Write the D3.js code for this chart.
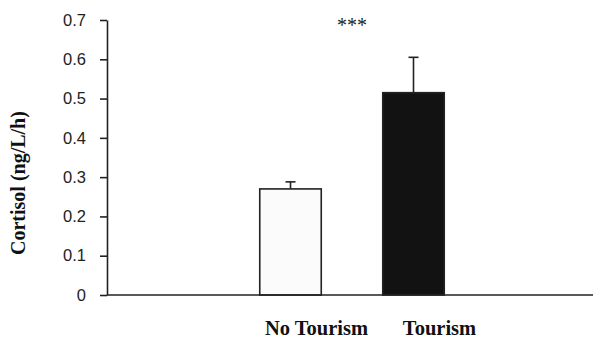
<!DOCTYPE html>
<html>
<head>
<meta charset="utf-8">
<script src="https://cdn.jsdelivr.net/npm/d3@7"></script>
<style>
  html, body { margin: 0; padding: 0; background: #fff; }
  svg { display: block; }
</style>
</head>
<body>
<svg id="chart" width="594" height="341"></svg>
<script>
// Mean cortisol per group, with upper error (SE)
const categories = ["No Tourism", "Tourism"];
const means = [0.27, 0.515];
const errors = [0.018, 0.09];
const yTicks = [0, 0.1, 0.2, 0.3, 0.4, 0.5, 0.6, 0.7];
const fills = ["#fbfbfb", "#121212"];
const yTitle = "Cortisol (ng/L/h)";
const significance = "***";

const svg = d3.select("#chart");
const W = 594, H = 341;
const axisX = 107, axisY = 295, topY = 20;

const y = d3.scaleLinear().domain([0, 0.7]).range([axisY, topY]);
const x = d3.scaleBand()
  .domain(categories)
  .range([229, 475])
  .paddingInner(0.5)
  .paddingOuter(0.25);

const ink = "#222";

// Bars
svg.append("g").selectAll("rect")
  .data(categories)
  .join("rect")
  .attr("x", d => x(d))
  .attr("y", (d, i) => y(means[i]))
  .attr("width", x.bandwidth())
  .attr("height", (d, i) => y(0) - y(means[i]))
  .attr("fill", (d, i) => fills[i])
  .attr("stroke", ink)
  .attr("stroke-width", 1.6);

// Upper error bars with caps
const eb = svg.append("g").attr("stroke", ink).attr("stroke-width", 1.6);
categories.forEach((c, i) => {
  const cx = x(c) + x.bandwidth() / 2;
  eb.append("line")
    .attr("x1", cx).attr("x2", cx)
    .attr("y1", y(means[i])).attr("y2", y(means[i] + errors[i]));
  eb.append("line")
    .attr("x1", cx - 5).attr("x2", cx + 5)
    .attr("y1", y(means[i] + errors[i])).attr("y2", y(means[i] + errors[i]));
});

// Y axis
const yAxis = svg.append("g")
  .attr("transform", `translate(${axisX},0)`)
  .call(d3.axisLeft(y).tickValues(yTicks).tickSize(7).tickSizeOuter(0)
    .tickFormat(d => d === 0 ? "0" : d3.format(".1f")(d)));
yAxis.selectAll("path, line").attr("stroke", ink).attr("stroke-width", 1.6);
yAxis.selectAll("text")
  .attr("x", -21)
  .attr("fill", "#222")
  .style("font-family", "'Liberation Sans', Arial, sans-serif")
  .style("font-size", "16.5px");

// X baseline
svg.append("line")
  .attr("x1", axisX).attr("x2", W - 1)
  .attr("y1", y(0)).attr("y2", y(0))
  .attr("stroke", ink).attr("stroke-width", 1.6);

// Category labels
svg.append("g").selectAll("text")
  .data(categories)
  .join("text")
  .attr("x", d => x(d) + x.bandwidth() / 2 + 26)
  .attr("y", 335)
  .attr("text-anchor", "middle")
  .attr("fill", "#111")
  .style("font-family", "'Liberation Serif', 'Times New Roman', serif")
  .style("font-weight", "bold")
  .style("font-size", "20.5px")
  .text(d => d);

// Y axis title
svg.append("text")
  .attr("transform", `translate(25,${y(0.285)}) rotate(-90)`)
  .attr("text-anchor", "middle")
  .attr("fill", "#111")
  .style("font-family", "'Liberation Serif', 'Times New Roman', serif")
  .style("font-weight", "bold")
  .style("font-size", "20px")
  .text(yTitle);

// Significance marker
const midX = (x(categories[0]) + x(categories[1]) + x.bandwidth()) / 2;
svg.append("text")
  .attr("x", midX)
  .attr("y", y(0.7) + 12)
  .attr("text-anchor", "middle")
  .attr("fill", "#222")
  .style("font-family", "'Liberation Serif', 'Times New Roman', serif")
  .style("font-size", "20px")
  .text(significance);
</script>
</body>
</html>
